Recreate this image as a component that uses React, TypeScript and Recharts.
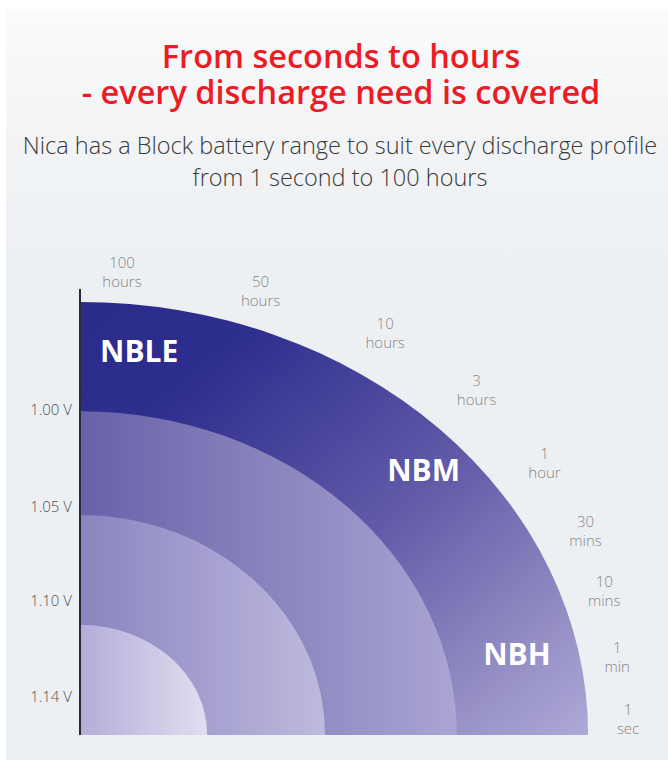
import React from "react";
import { ComposedChart, XAxis, YAxis, ReferenceArea, ReferenceDot, Scatter } from "recharts";

// ---- data ----
const titleLines = ["From seconds to hours", "- every discharge need is covered"];
const subtitleLines = ["Nica has a Block battery range to suit every discharge profile", "from 1 second to 100 hours"];

// Concentric discharge-profile bands (value units along each axis)
const bandRadiusX = [97.9, 72.6, 47.2, 24.5];
const bandRadiusY = [97.1, 72.6, 49.3, 24.7];

// Voltage ticks on the vertical axis
const voltageLabels = ["1.00 V", "1.05 V", "1.10 V", "1.14 V"];
const voltageValues = [73, 51.3, 30.1, 8.6];

// Discharge-time labels round the arc
const timeNumbers = ["100", "50", "10", "3", "1", "30", "10", "1", "1"];
const timeUnits = ["hours", "hours", "hours", "hours", "hour", "mins", "mins", "min", "sec"];
const timeX = [8.1, 34.8, 58.8, 76.4, 89.5, 97.4, 101.0, 103.5, 105.6];
const timeY = [103.8, 99.4, 90.2, 77.2, 61.0, 45.8, 32.2, 17.4, 3.6];

// Product ranges
const productNames = ["NBLE", "NBM", "NBH"];
const productX = [11.4, 66.2, 84.2];
const productY = [86.1, 59.4, 18.2];

// ---- styles ----
const FONT = "'Open Sans', 'DejaVu Sans', sans-serif";
const bandFills = ["url(#gOuter)", "url(#gB2)", "url(#gB3)", "url(#gB4)"];

const bands = bandRadiusX.map((rx, i) => ({ rx, ry: bandRadiusY[i], fill: bandFills[i] }));
const timeMarks = timeNumbers.map((n, i) => ({ n, u: timeUnits[i], x: timeX[i], y: timeY[i] }));
const products = productNames.map((name, i) => ({ name, x: productX[i], y: productY[i] }));

const makeEllipse = (fill: string) => (props: any) => {
  const { x, y, width, height } = props;
  const d = `M${x},${y + height} L${x},${y} A${width},${height} 0 0 1 ${x + width},${y + height} Z`;
  return <path d={d} fill={fill} />;
};

const makeTimeLabel = (n: string, u: string) => (props: any) => {
  const { cx, cy } = props;
  return (
    <text textAnchor="middle" fontFamily={FONT} fontSize={15} fontWeight={300} fill="#858585">
      <tspan x={cx} y={cy - 9.5 + 5.3}>{n}</tspan>
      <tspan x={cx} y={cy + 9.5 + 5.3}>{u}</tspan>
    </text>
  );
};

const ProductLabel = (props: any) => {
  const { cx, cy, payload } = props;
  return (
    <text x={cx} y={cy + 10.7} textAnchor="middle" fontFamily={FONT} fontSize={30} fontWeight={700} fill="#ffffff">
      {payload.name}
    </text>
  );
};

const voltageFormatter = (v: number) => {
  const i = voltageValues.indexOf(v);
  return i >= 0 ? voltageLabels[i] : "";
};

export default function App() {
  return (
    <div style={{ position: "absolute", left: 0, top: 0, width: 668, height: 760, background: "#ffffff", overflow: "hidden" }}>
      <div
        style={{
          position: "absolute",
          left: 6,
          top: 9,
          right: 0,
          bottom: 0,
          background: "linear-gradient(#fafbfb 0px, #f1f3f5 140px, #edf0f3 260px, #edf0f3 100%)",
        }}
      />
      <svg width={668} height={200} style={{ position: "absolute", left: 0, top: 0 }}>
        <text textAnchor="middle" fontFamily={FONT} fontSize={32.5} fontWeight={600} fill="#ed1c24">
          {titleLines.map((t, i) => (
            <tspan key={t} x={341} y={68 + i * 35.5}>{t}</tspan>
          ))}
        </text>
        <text textAnchor="middle" fontFamily={FONT} fontSize={23.5} fontWeight={300} fill="#3a3a3a">
          {subtitleLines.map((t, i) => (
            <tspan key={t} x={340} y={154 + i * 32}>{t}</tspan>
          ))}
        </text>
      </svg>
      <div style={{ position: "absolute", left: 0, top: 0 }}>
        <ComposedChart width={668} height={760} data={products} margin={{ top: 289, right: 69, bottom: 25, left: 0 }}>
          <defs>
            <linearGradient id="gOuter" x1="0" y1="0" x2="1" y2="1">
              <stop offset="0%" stopColor="#2b2b8b" />
              <stop offset="20%" stopColor="#2e2e8e" />
              <stop offset="55%" stopColor="#605aa8" />
              <stop offset="85%" stopColor="#9690c5" />
              <stop offset="100%" stopColor="#aea9d7" />
            </linearGradient>
            <linearGradient id="gB2" x1="0" y1="0" x2="1" y2="0">
              <stop offset="0%" stopColor="#6861a9" />
              <stop offset="100%" stopColor="#aaa5d3" />
            </linearGradient>
            <linearGradient id="gB3" x1="0" y1="0" x2="1" y2="0">
              <stop offset="0%" stopColor="#8a84c0" />
              <stop offset="100%" stopColor="#bebadd" />
            </linearGradient>
            <linearGradient id="gB4" x1="0" y1="0" x2="1" y2="0">
              <stop offset="0%" stopColor="#b3add9" />
              <stop offset="100%" stopColor="#e0def0" />
            </linearGradient>
          </defs>
          {bands.map((b, i) => (
            <ReferenceArea
              key={i}
              x1={0}
              x2={b.rx}
              y1={0}
              y2={b.ry}
              fill={b.fill}
              fillOpacity={1}
              stroke="none"
              shape={makeEllipse(b.fill)}
            />
          ))}
          <XAxis
            type="number"
            dataKey="x"
            domain={[0, 100]}
            height={0}
            tick={false}
            tickLine={false}
            axisLine={{ stroke: "#2b2a3a", strokeWidth: 2 }}
          />
          <YAxis
            type="number"
            dataKey="y"
            domain={[0, 100]}
            width={80}
            ticks={voltageValues}
            tickFormatter={voltageFormatter}
            tickLine={false}
            interval={0}
            tick={{ fontFamily: FONT, fontSize: 15, fontWeight: 300, fill: "#4f4f4f" }}
            axisLine={{ stroke: "#2b2a3a", strokeWidth: 2 }}
          />
          <Scatter data={products} dataKey="y" isAnimationActive={false} shape={ProductLabel} />
          {timeMarks.map((t, i) => (
            <ReferenceDot
              key={i}
              x={t.x}
              y={t.y}
              r={0}
              ifOverflow="visible"
              shape={makeTimeLabel(t.n, t.u)}
            />
          ))}
        </ComposedChart>
      </div>
    </div>
  );
}
